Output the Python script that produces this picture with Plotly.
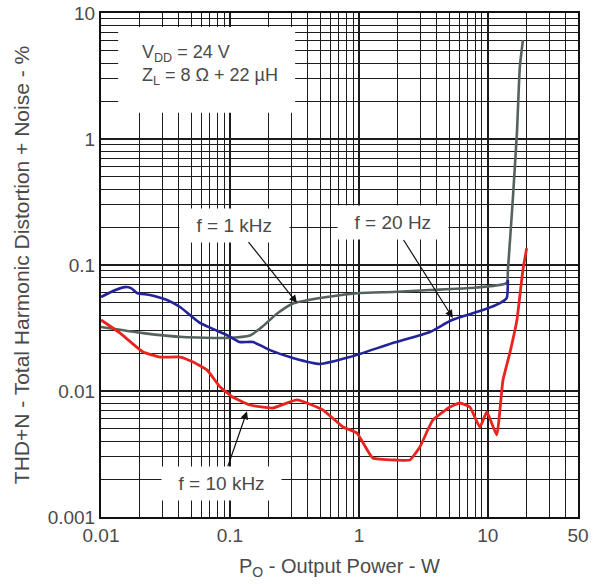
import math
import plotly.graph_objects as go

# THD+N versus output power, three test frequencies (log-log)
power_20hz = [0.01, 0.0124, 0.0154, 0.0171, 0.019, 0.024, 0.0325, 0.041, 0.0585, 0.0948,
              0.119, 0.151, 0.204, 0.308, 0.499, 0.85, 1.83, 3.55, 5.26, 9.14, 12.4, 14.0, 14.3]
thd_20hz = [0.0557, 0.0622, 0.0668, 0.0656, 0.060, 0.0578, 0.0527, 0.0464, 0.0347, 0.0278,
            0.0245, 0.0245, 0.0211, 0.0183, 0.0164, 0.0186, 0.0240, 0.0294, 0.0366, 0.0439, 0.0499, 0.0547, 0.076]

power_1khz = [0.01, 0.0212, 0.0432, 0.0948, 0.143, 0.177, 0.231, 0.308, 0.565, 1.02, 1.83,
              3.55, 7.25, 14.0, 14.3, 15.6, 16.8, 17.7, 18.7]
thd_1khz = [0.0322, 0.0288, 0.0268, 0.0264, 0.0276, 0.0322, 0.0410, 0.0495, 0.0557, 0.060, 0.0611,
            0.0633, 0.0656, 0.072, 0.0912, 0.328, 1.12, 3.73, 6.1]

power_10khz = [0.01, 0.014, 0.0212, 0.0287, 0.041, 0.0517, 0.0663, 0.0837, 0.105, 0.143, 0.215,
               0.331, 0.526, 0.752, 0.965, 1.28, 1.97, 2.48, 2.97, 3.75, 5.08, 6.06, 7.25, 8.67,
               9.82, 11.7, 13.1, 14.8, 16.8, 18.7, 20.0]
thd_10khz = [0.0366, 0.0289, 0.0204, 0.0186, 0.0186, 0.0170, 0.0147, 0.0108, 0.00896, 0.00774, 0.00733,
             0.00849, 0.00707, 0.00518, 0.00464, 0.00294, 0.00283, 0.00283, 0.0036, 0.00589, 0.00746,
             0.00803, 0.00746, 0.00518, 0.00681, 0.00448, 0.0122, 0.0200, 0.0366, 0.0912, 0.136]

x_ticks = [0.01, 0.1, 1, 10, 50]
x_tick_text = ["0.01", "0.1", "1", "10", "50"]
y_ticks = [0.001, 0.01, 0.1, 1, 10]
y_tick_text = ["0.001", "0.01", "0.1", "1", "10"]

x_minor = [m * d for d in (0.01, 0.1, 1) for m in range(2, 10)] + [20, 30, 40]
y_minor = [m * d for d in (0.001, 0.01, 0.1, 1) for m in range(2, 10)]

RED = "#e8241f"
BLUE = "#23239a"
GRAY = "#56625c"
GRID = "#1c1c1c"
TEXT = "#4a4a4a"
FONT = "Liberation Sans, Arial, sans-serif"


def lg(v):
    return math.log10(v)


fig = go.Figure()
fig.add_trace(go.Scatter(x=power_1khz, y=thd_1khz, mode="lines",
                         line=dict(color=GRAY, width=2.6, shape="spline", smoothing=0.5),
                         name="f = 1 kHz"))
fig.add_trace(go.Scatter(x=power_20hz, y=thd_20hz, mode="lines",
                         line=dict(color=BLUE, width=2.6, shape="spline", smoothing=0.5),
                         name="f = 20 Hz"))
fig.add_trace(go.Scatter(x=power_10khz, y=thd_10khz, mode="lines",
                         line=dict(color=RED, width=2.8, shape="spline", smoothing=0.4),
                         name="f = 10 kHz"))

label_font = dict(family=FONT, size=19, color=TEXT)
arrow = dict(showarrow=True, arrowhead=2, arrowsize=1.3, arrowwidth=1.2,
             arrowcolor="#111", axref="pixel", ayref="pixel",
             bgcolor="white", borderpad=6, font=label_font)

fig.add_annotation(x=lg(0.331), y=lg(0.0499), ax=-62, ay=-78, text="  f = 1 kHz  ", **arrow)
fig.add_annotation(x=lg(5.35), y=lg(0.038), ax=-60, ay=-95, text="  f = 20 Hz  ", **arrow)
fig.add_annotation(x=lg(0.1355), y=lg(0.0069), ax=-25, ay=72, text="  f = 10 kHz  ", **arrow)

# white panel behind the operating conditions
fig.add_shape(type="rect", xref="paper", yref="paper", x0=0.036, x1=0.407, y0=0.802, y1=0.972,
              fillcolor="white", line_width=0, layer="above")
fig.add_annotation(xref="paper", yref="paper", x=0.082, y=0.897, xanchor="left", yanchor="middle",
                   align="left", showarrow=False,
                   text="V<sub>DD</sub> = 24 V<br>Z<sub>L</sub> = 8 Ω + 22 µH",
                   font=dict(family=FONT, size=18, color=TEXT))

axis_common = dict(
    type="log", showline=True, linecolor="#111", linewidth=2, mirror=True,
    showgrid=True, gridcolor=GRID, gridwidth=1.6, ticks="", zeroline=False,
    automargin=False, tickfont=dict(family=FONT, size=19, color=TEXT),
)

fig.update_xaxes(
    range=[lg(0.01), lg(50)], tickmode="array", tickvals=x_ticks, ticktext=x_tick_text,
    minor=dict(tickmode="array", tickvals=x_minor, showgrid=True, gridcolor=GRID, gridwidth=1.3),
    title=dict(text="P<sub>O</sub> - Output Power - W", font=dict(family=FONT, size=20, color=TEXT),
               standoff=14),
    **axis_common,
)
fig.update_yaxes(
    range=[lg(0.001), lg(10)], tickmode="array", tickvals=y_ticks, ticktext=y_tick_text,
    minor=dict(tickmode="array", tickvals=y_minor, showgrid=True, gridcolor=GRID, gridwidth=1.3),
    title=dict(text="THD+N - Total Harmonic Distortion + Noise - %",
               font=dict(family=FONT, size=21, color=TEXT), standoff=12),
    **axis_common,
)

fig.update_layout(
    width=593, height=584,
    margin=dict(l=101, r=15, t=13, b=67),
    paper_bgcolor="white", plot_bgcolor="white",
    showlegend=False,
)

fig.write_html("out.html")
